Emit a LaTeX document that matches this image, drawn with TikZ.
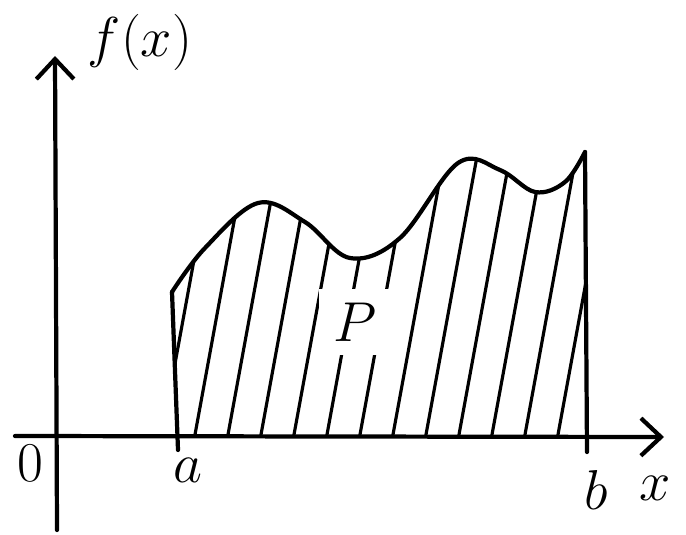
\RequirePackage{fix-cm}
\documentclass[tikz,border=0pt]{standalone}
\usetikzlibrary{arrows.meta}
\tikzset{
  pen/.style   = {line width=2.4pt, line cap=round, line join=round},
  axis/.style  = {pen, -{Straight Barb[length=4mm, width=7.5mm, line width=2.4pt]}},
  hatch/.style = {line width=1.8pt, line cap=round},
  lbl/.style   = {font=\fontsize{32}{38}\selectfont, inner sep=0pt}
}

\begin{document}
\begin{tikzpicture}[x=0.02cm, y=-0.02cm]
  \useasboundingbox (0,0) rectangle (686,534);
  \coordinate (ybot) at (57,530);
  \coordinate (ytop) at (55,56);
  \coordinate (xleft) at (15,436);
  \coordinate (xright) at (664,437);
  \coordinate (a) at (177,435);
  \coordinate (b) at (586,437);
  \coordinate (fa) at (172,292);
  \coordinate (fb) at (585,152);
  \coordinate (atick) at (178,450);
  \coordinate (btick) at (587,452);
  % hatching of the area P
  \begin{scope}
    \clip (a) -- plot[smooth, tension=0.6] coordinates {(172,292) (205,248) (258,203) (305,222) (350,258) (400,238) (458,163) (500,170) (535,192) (565,182) (585,152)} -- (b) -- cycle;
    \foreach \x in {95,128,...,640}
      \draw[hatch] (\x,440) -- ++(55,-300);
  \end{scope}
  \node[lbl, fill=white, inner sep=8pt] (P) at (355,322) {$P$};
  % axes
  \draw[axis] (ybot) -- (ytop);
  \draw[axis] (xleft) -- (xright);
  % graph of f and the borders x=a, x=b
  \draw[pen] plot[smooth, tension=0.6] coordinates {(172,292) (205,248) (258,203) (305,222) (350,258) (400,238) (458,163) (500,170) (535,192) (565,182) (585,152)};
  \draw[pen] (fa) -- (atick);
  \draw[pen] (fb) -- (btick);
  % labels
  \node[lbl] (fx) at (140,42) {$f(x)$};
  \node[lbl] (zero) at (30,463) {$0$};
  \node[lbl] (alab) at (188,470) {$a$};
  \node[lbl] (blab) at (596,490) {$b$};
  \node[lbl] (xlab) at (655,488) {$x$};
\end{tikzpicture}
\end{document}
